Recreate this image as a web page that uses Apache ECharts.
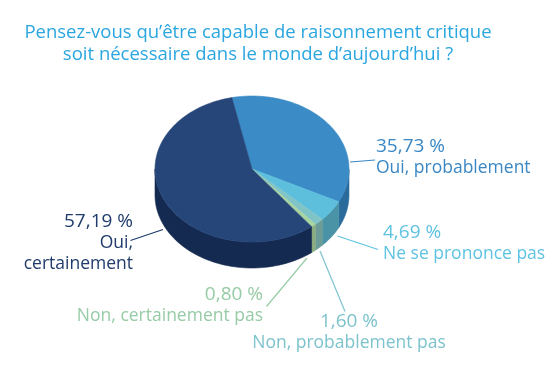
<!DOCTYPE html>
<html>
<head>
<meta charset="utf-8">
<script src="https://cdn.jsdelivr.net/npm/echarts@6/dist/echarts.min.js"></script>
<style>
  html, body { margin: 0; padding: 0; background: #fff; }
  #main { width: 557px; height: 376px; }
</style>
</head>
<body>
<div id="main"></div>
<script>
// data
const categories = ['Oui, probablement', 'Ne se prononce pas', 'Non, probablement pas', 'Non, certainement pas', 'Oui, certainement'];
const values = [35.73, 4.69, 1.60, 0.80, 57.19];

// styles
const topColors = ['#3b8cc6', '#5ebfdd', '#80c4c8', '#a8d4a2', '#26467a'];
const sideColors = ['#2b6b9c', '#4a93a6', '#6b9c97', '#8cae82', '#142a50'];
const labelColors = ['#3a87c4', '#5ec3e2', '#7cc3cd', '#97cba6', '#1f3b6b'];

// label layout: text anchor + leader line
const labelLayout = [
  { align: 'left', x: 376, y: 147, line: [350, 162, 375, 160] },
  { align: 'left', x: 383, y: 233, line: [337.5, 236, 378, 249.5] },
  { align: 'center', x: 349, y: 322, line: [320, 251, 345, 311.5] },
  { align: 'right', x: 263, y: 295, line: [307, 258, 266.5, 306.5] },
  { align: 'right', x: 133, y: 222, line: [163, 229.5, 130.5, 240.5], wrap: true }
];

const pie = { cx: 252, cy: 169, rx: 97, ry: 73, depth: 26, start: -12 };
const fontFamily = '"Open Sans", sans-serif';

const total = values.reduce((a, b) => a + b, 0);
const cum = [];
values.reduce((acc, v, i) => { cum[i] = acc; return acc + v; }, 0);

function pt(t, dy) {
  const r = t * Math.PI / 180;
  return [pie.cx + pie.rx * Math.sin(r), pie.cy - pie.ry * Math.cos(r) + dy];
}

function arc(a, b, dy) {
  const n = Math.max(2, Math.ceil(Math.abs(b - a) / 2));
  const pts = [];
  for (let k = 0; k <= n; k++) pts.push(pt(a + (b - a) * k / n, dy));
  return pts;
}

function renderSlice(params, api) {
  const i = params.dataIndex;
  const v = api.value(0);
  let t0 = pie.start + cum[i] / total * 360;
  t0 = ((t0 % 360) + 360) % 360;
  const t1 = t0 + v / total * 360;
  const children = [];

  // front side wall
  [[90, 270], [450, 630]].forEach(function (r) {
    const a = Math.max(t0, r[0]), b = Math.min(t1, r[1]);
    if (b > a) {
      const pts = arc(a, b, 0).concat(arc(b, a, pie.depth));
      children.push({
        type: 'polygon',
        shape: { points: pts },
        style: { fill: sideColors[i], stroke: sideColors[i], lineWidth: 0.6 }
      });
    }
  });

  // top face
  const top = [[pie.cx, pie.cy]].concat(arc(t0, t1, 0));
  children.push({
    type: 'polygon',
    shape: { points: top },
    style: { fill: topColors[i], stroke: topColors[i], lineWidth: 0.6 }
  });
  return { type: 'group', children: children };
}

function fmt(v) {
  return v.toFixed(2).replace('.', ',') + ' %';
}

const graphics = [];
labelLayout.forEach(function (l, i) {
  graphics.push({
    type: 'line',
    shape: { x1: l.line[0], y1: l.line[1], x2: l.line[2], y2: l.line[3] },
    style: { stroke: labelColors[i], lineWidth: 1.2 },
    silent: true
  });
  graphics.push({
    type: 'text',
    x: l.x, y: l.y,
    style: {
      text: fmt(values[i]),
      fill: labelColors[i],
      font: '19px ' + fontFamily,
      textAlign: l.align,
      textVerticalAlign: 'middle'
    }
  });
  const name = l.wrap ? categories[i].replace(', ', ',\n') : categories[i];
  graphics.push({
    type: 'text',
    x: l.x, y: l.y + 11,
    style: {
      text: name,
      fill: labelColors[i],
      font: '17.5px ' + fontFamily,
      lineHeight: 21,
      textAlign: l.align,
      textVerticalAlign: 'top'
    }
  });
});

const chart = echarts.init(document.getElementById('main'));
chart.setOption({
  backgroundColor: '#fff',
  animation: false,
  title: {
    text: 'Pensez-vous qu’être capable de raisonnement critique\nsoit nécessaire dans le monde d’aujourd’hui ?',
    left: 253,
    top: 17,
    textAlign: 'center',
    textStyle: {
      color: '#2aa6e0',
      fontSize: 18.5,
      fontWeight: 'normal',
      fontFamily: fontFamily,
      lineHeight: 21.5
    }
  },
  graphic: graphics,
  series: [{
    type: 'custom',
    coordinateSystem: 'none',
    renderItem: renderSlice,
    data: values.map(function (v, i) { return [v, i]; })
  }]
});
</script>
</body>
</html>
